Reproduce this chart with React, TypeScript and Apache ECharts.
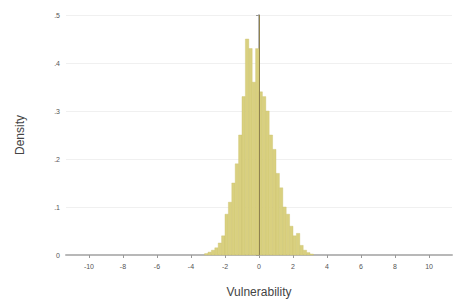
import React, { useEffect, useRef } from "react";
import * as echarts from "echarts";

// Histogram bins (left edge) of width 0.2 and their densities
const binStarts = [
  -3.2, -3.0, -2.8, -2.6, -2.4, -2.2, -2.0, -1.8, -1.6, -1.4, -1.2, -1.0, -0.8, -0.6, -0.4, -0.2,
  0.0, 0.2, 0.4, 0.6, 0.8, 1.0, 1.2, 1.4, 1.6, 1.8, 2.0, 2.2, 2.4, 2.6, 2.8, 3.0,
];
const binWidth = 0.2;
const densities = [
  0.003, 0.006, 0.01, 0.015, 0.025, 0.04, 0.085, 0.11, 0.15, 0.19, 0.25, 0.33, 0.45, 0.43, 0.36, 0.43,
  0.34, 0.33, 0.3, 0.25, 0.22, 0.17, 0.14, 0.1, 0.085, 0.06, 0.04, 0.045, 0.02, 0.01, 0.005, 0.002,
];
const xTicks = [-10, -8, -6, -4, -2, 0, 2, 4, 6, 8, 10];
const yTicks = [0, 0.1, 0.2, 0.3, 0.4, 0.5];
const yTickLabels = ["0", ".1", ".2", ".3", ".4", ".5"];
const refLineX = 0;

export default function App() {
  const ref = useRef<HTMLDivElement>(null);
  useEffect(() => {
    document.body.style.margin = "0";
    const chart = echarts.init(ref.current!, null, { renderer: "svg" });
    const data = binStarts.map((s, i) => [s, s + binWidth, densities[i]]);
    chart.setOption({
      animation: false,
      backgroundColor: "#ffffff",
      grid: { left: 66, right: 2, top: 15, bottom: 48 },
      xAxis: {
        type: "value",
        min: -11.35,
        max: 11.35,
        name: "Vulnerability",
        nameLocation: "middle",
        nameGap: 31,
        nameTextStyle: { fontFamily: "Liberation Sans", fontSize: 12, color: "#444" },
        axisLine: { show: true, onZero: false, lineStyle: { color: "#b8b8b8", width: 2 } },
        axisTick: { show: true, customValues: xTicks, length: 3, lineStyle: { color: "#999" } },
        axisLabel: {
          customValues: xTicks,
          fontFamily: "Liberation Sans",
          fontSize: 7,
          color: "#555",
          margin: 8,
        },
        splitLine: { show: false },
      },
      yAxis: {
        type: "value",
        min: 0,
        max: 0.5,
        interval: 0.1,
        name: "Density",
        nameLocation: "middle",
        nameGap: 40,
        nameTextStyle: { fontFamily: "Liberation Sans", fontSize: 12, color: "#444" },
        axisLine: { show: true, lineStyle: { color: "#b8b8b8", width: 2 } },
        axisTick: { show: true, length: 3, lineStyle: { color: "#999" } },
        axisLabel: {
          fontFamily: "Liberation Sans",
          fontSize: 7,
          color: "#555",
          margin: 6,
          formatter: (v: number) => {
            const i = yTicks.findIndex((t) => Math.abs(t - v) < 1e-9);
            return i >= 0 ? yTickLabels[i] : "";
          },
        },
        splitLine: { show: true, lineStyle: { color: "#f0f0f0", width: 1 } },
      },
      series: [
        {
          type: "custom",
          data,
          renderItem: (params: any, api: any) => {
            const x0 = api.value(0);
            const x1 = api.value(1);
            const y = api.value(2);
            const p0 = api.coord([x0, y]);
            const p1 = api.coord([x1, 0]);
            return {
              type: "rect",
              shape: { x: p0[0], y: p0[1], width: p1[0] - p0[0], height: p1[1] - p0[1] },
              style: { fill: "#d9d07f", stroke: "#cdc270", lineWidth: 0.4 },
            };
          },
          encode: { x: [0, 1], y: 2 },
          markLine: {
            silent: true,
            symbol: "none",
            label: { show: false },
            lineStyle: { color: "#8f8250", width: 1, type: "solid" },
            data: [{ xAxis: refLineX }],
          },
        },
      ],
    });
    return () => chart.dispose();
  }, []);
  return <div ref={ref} style={{ width: 454, height: 303 }} />;
}
